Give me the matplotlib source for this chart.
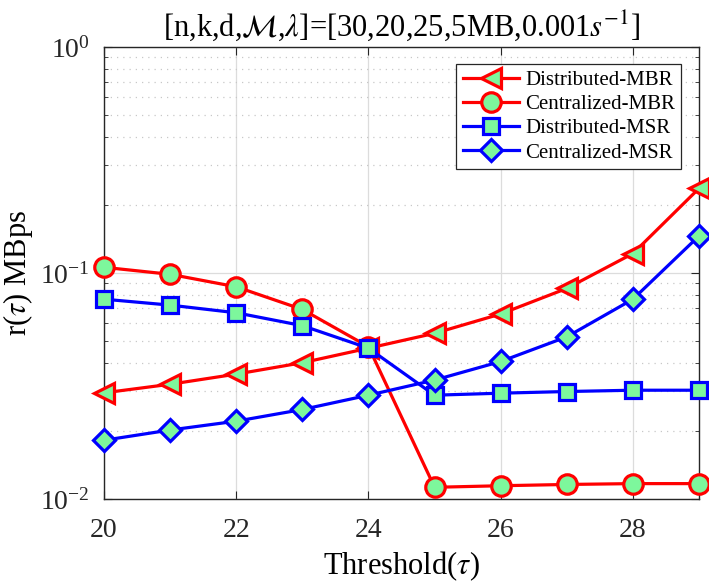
import matplotlib
matplotlib.use("Agg")
import matplotlib.pyplot as plt
from matplotlib.ticker import LogLocator, NullFormatter

plt.rcParams["font.family"] = ["Liberation Serif", "DejaVu Serif"]
plt.rcParams["mathtext.fontset"] = "stix"

tau = [20, 21, 22, 23, 24, 25, 26, 27, 28, 29]
dist_mbr = [0.0295, 0.0322, 0.0357, 0.0401, 0.0465, 0.0541, 0.0659, 0.0855, 0.122, 0.237]
cent_mbr = [0.106, 0.0987, 0.0869, 0.069, 0.0472, 0.01127, 0.01145, 0.0116, 0.0117, 0.0117]
dist_msr = [0.0766, 0.0721, 0.0667, 0.0585, 0.0465, 0.0288, 0.0294, 0.0299, 0.0303, 0.0303]
cent_msr = [0.0182, 0.0202, 0.0221, 0.0249, 0.0288, 0.0336, 0.0406, 0.0522, 0.0766, 0.146]
labels = ["Distributed-MBR", "Centralized-MBR", "Distributed-MSR", "Centralized-MSR"]

GREEN = "#7DF79C"
series = [
    (dist_mbr, "red", "<", 14),
    (cent_mbr, "red", "o", 14),
    (dist_msr, "blue", "s", 12),
    (cent_msr, "blue", "D", 11),
]

fig = plt.figure(figsize=(7.09, 5.84), dpi=100)
ax = fig.add_axes([0.1467, 0.1455, 0.8393, 0.774])

for (vals, col, mk, ms), lab in zip(series, labels):
    ax.plot(tau, vals, color=col, lw=2.3, marker=mk, ms=ms, mfc=GREEN,
            mec=col, mew=2.3, label=lab, clip_on=False, zorder=3)

ax.set_yscale("log")
ax.set_xlim(20, 29)
ax.set_ylim(1e-2, 1e0)
ax.set_xticks([20, 22, 24, 26, 28])
ax.yaxis.set_minor_locator(LogLocator(base=10, subs=range(2, 10)))
ax.yaxis.set_minor_formatter(NullFormatter())

ax.grid(True, which="major", color="#dcdcdc", lw=0.9)
ax.grid(True, which="minor", axis="y", color="#c8c8c8", lw=0.9, ls=(0, (1, 4)))
ax.set_axisbelow(True)

for sp in ax.spines.values():
    sp.set_color("#262626")
    sp.set_linewidth(1.0)
ax.tick_params(which="both", direction="in", top=True, right=True,
               colors="#262626", labelsize=20)
ax.tick_params(which="major", length=6)
ax.tick_params(which="minor", length=3)
ax.tick_params(axis="x", pad=14)
ax.tick_params(axis="y", pad=10)

ax.set_xlabel(r"Threshold($\tau$)", fontsize=22, labelpad=4)
ax.set_ylabel(r"r($\tau$) MBps", fontsize=22, labelpad=4)
ax.set_title(r"[n,k,d,$\mathcal{M}$,$\lambda$]=[30,20,25,5MB,0.001$s^{-1}$]",
             fontsize=22, pad=8)

leg = ax.legend(loc="upper right", bbox_to_anchor=(0.97, 0.962), fontsize=15,
                frameon=True, fancybox=False, framealpha=1, edgecolor="#262626",
                handlelength=2.7, borderpad=0.3, labelspacing=0.22,
                handletextpad=0.3, borderaxespad=0)
leg.get_frame().set_linewidth(0.9)

fig.savefig("out.png", dpi=100)
